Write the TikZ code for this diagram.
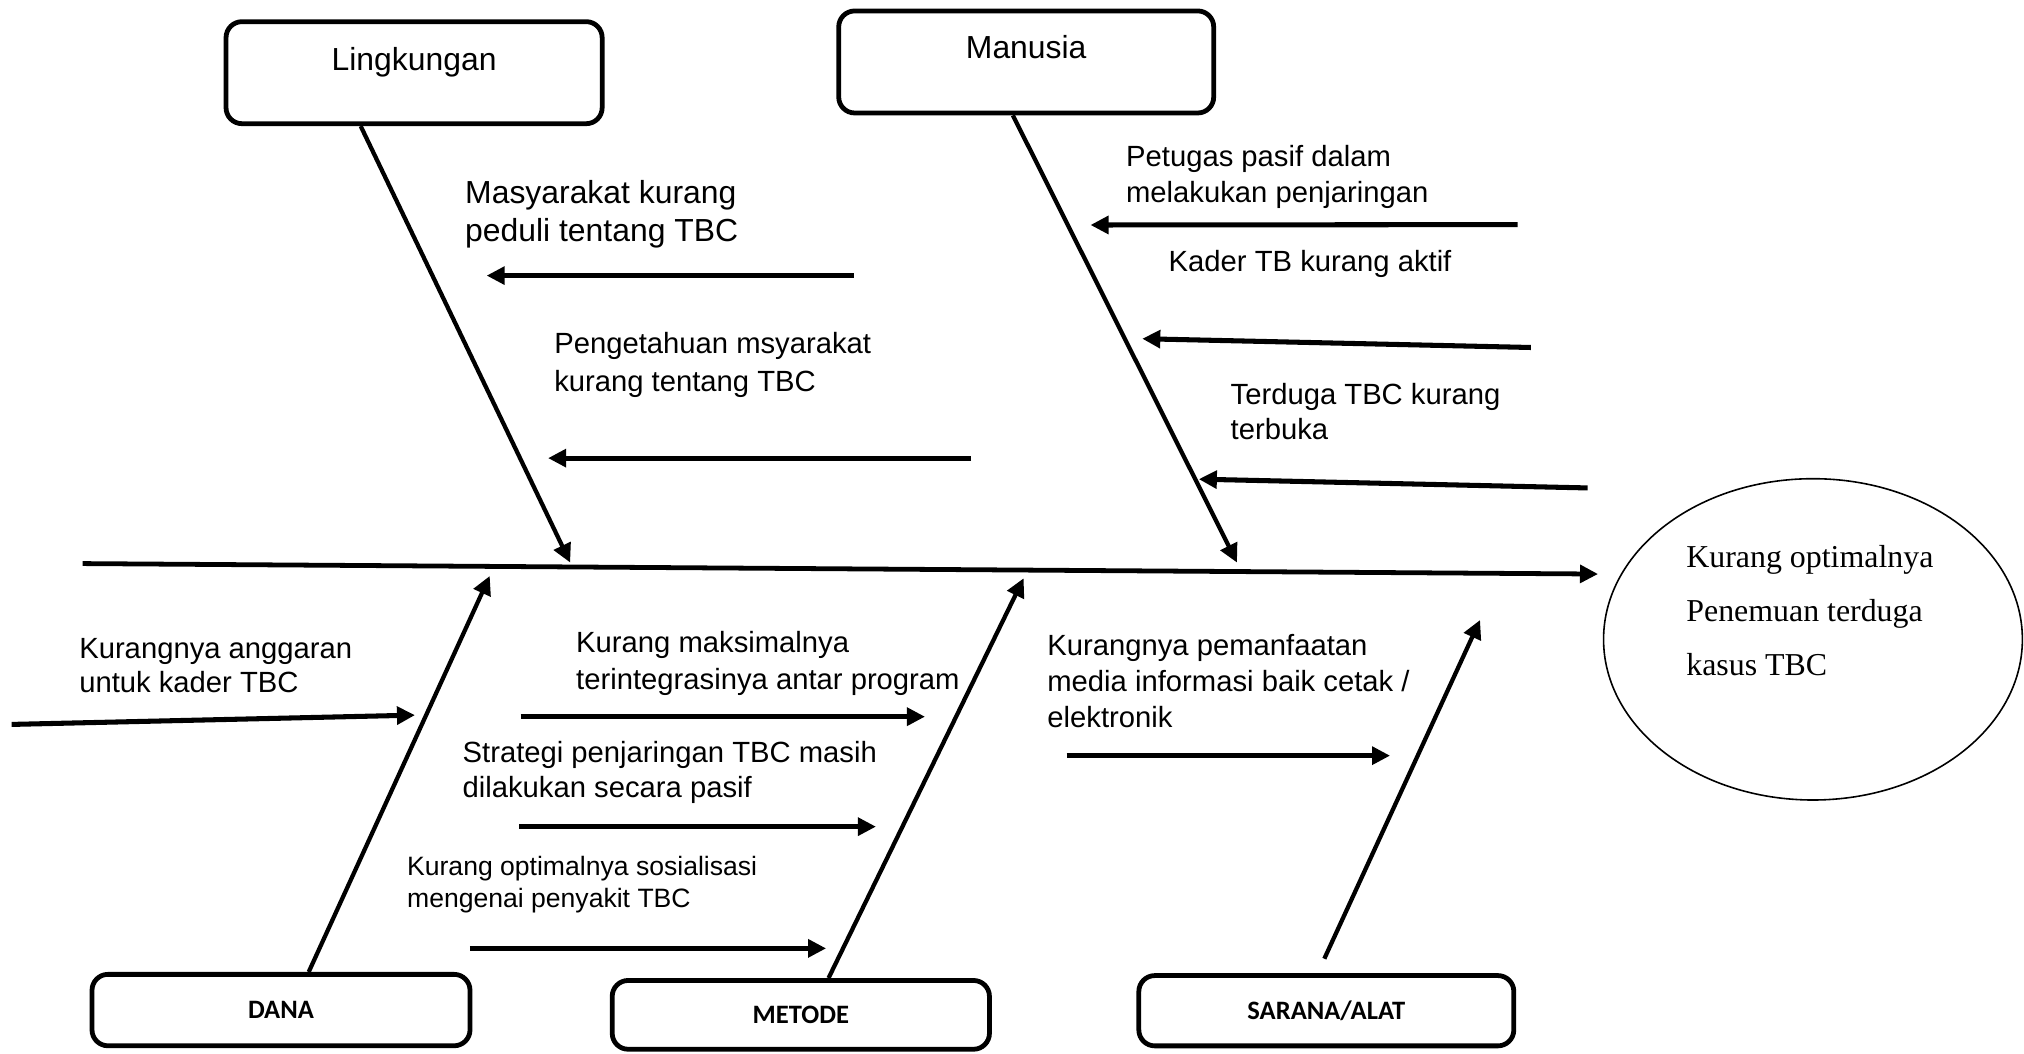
\documentclass[tikz,border=0pt]{standalone}
\usepackage{fontspec}
\setmainfont{Liberation Sans}
\newfontfamily\hurufserif{Liberation Serif}
\newfontfamily\hurufkotak{Carlito}
\usepackage{tikz}
\usetikzlibrary{arrows.meta, shapes.geometric}

\begin{document}
\begin{tikzpicture}[x=0.01708cm, y=-0.01708cm,
  kotak/.style={draw, line width=1.8pt, rounded corners=6pt, inner sep=0pt},
  kotakatas/.style={kotak, font=\fontsize{12}{14}\selectfont},
  kotakbawah/.style={kotak, font=\hurufkotak\bfseries\fontsize{10}{12}\selectfont},
  tulang/.style={line width=1.6pt, -{Triangle[length=7pt,width=6.8pt]}},
  panah/.style={line width=1.9pt, -{Triangle[length=6.8pt,width=6.6pt]}},
  sebab/.style={anchor=west, align=left, inner sep=0pt}]

\useasboundingbox (0,0) rectangle (1568,816);

% Kotak kategori atas
\node[kotakatas, minimum width=4.975cm, text height=18.4pt, text depth=20pt] (lingk) at (320.8,56.3) {Lingkungan};
\node[kotakatas, minimum width=4.96cm, text height=17.9pt, text depth=20.5pt] (manusia) at (795,48) {Manusia};

% Kotak kategori bawah
\node[kotakbawah, minimum width=5.0cm, minimum height=0.945cm] (dana) at (217.7,782.5) {DANA};
\node[kotakbawah, minimum width=4.99cm, minimum height=0.91cm] (metode) at (620.4,786.2) {METODE};
\node[kotakbawah, minimum width=4.96cm, minimum height=0.93cm] (sarana) at (1027.5,783) {SARANA/ALAT};

% Kepala ikan (masalah)
\node[ellipse, draw, line width=0.6pt, minimum width=5.54cm, minimum height=4.25cm, inner sep=0pt] (hasil) at (1404.5,495.3) {};
\node[anchor=west, align=left, inner sep=0pt, font=\hurufserif\fontsize{12}{20.4}\selectfont] (hasilteks) at (1306,473) {Kurang optimalnya\\Penemuan terduga\\kasus TBC};

% Tulang utama
\coordinate (ekor) at (64,436.6);
\coordinate (kepala) at (1238,444.7);
\draw[line width=1.8pt, -{Triangle[length=6.8pt,width=6.6pt]}] (ekor) -- (kepala);

% Tulang kategori
\coordinate (ujungL) at (441.7,435.8);
\coordinate (ujungM) at (958.3,435.8);
\coordinate (ujungD) at (379.4,446.2);
\coordinate (ujungMe) at (793,448);
\coordinate (ujungS) at (1146.6,480.3);
\draw[tulang] (lingk.225) -- (ujungL);
\draw[tulang] (manusia.256) -- (ujungM);
\draw[tulang] (dana.54) -- (ujungD);
\draw[tulang] (metode.53) -- (ujungMe);
\draw[tulang, shorten <=6pt] (sarana.103) -- (ujungS);

% Sebab - Lingkungan
\node[sebab, font=\fontsize{12}{14.4}\selectfont] (masy) at (360,166) {Masyarakat kurang\\peduli tentang TBC};
\node[sebab, font=\fontsize{11}{14.4}\selectfont] (penget) at (429,283) {Pengetahuan msyarakat\\kurang tentang TBC};
\coordinate (a1) at (661.4,213.5);
\coordinate (a1u) at (377,213.5);
\coordinate (a2) at (752.3,354.9);
\coordinate (a2u) at (424.6,354.9);
\draw[panah] (a1) -- (a1u);
\draw[panah] (a2) -- (a2u);

% Sebab - Manusia
\node[sebab, font=\fontsize{11}{13.7}\selectfont] (petugas) at (872,137) {Petugas pasif dalam\\melakukan penjaringan};
\node[sebab, font=\fontsize{11}{13}\selectfont] (kader) at (905,204.5) {Kader TB kurang aktif};
\node[sebab, font=\fontsize{11}{13}\selectfont] (terduga) at (953,318.7) {Terduga TBC kurang\\terbuka};
\coordinate (a3) at (1175.6,174);
\coordinate (a3u) at (844.8,174.3);
\coordinate (a4) at (1186,269.2);
\coordinate (a4u) at (884.9,262.4);
\coordinate (a5) at (1229.9,378);
\coordinate (a5u) at (928.7,371.2);
\draw[panah] (a3) -- (a3u);
\draw[panah] (a4) -- (a4u);
\draw[panah] (a5) -- (a5u);

% Sebab - Dana
\node[sebab, font=\fontsize{11}{12.8}\selectfont] (anggaran) at (61,516) {Kurangnya anggaran\\untuk kader TBC};
\coordinate (b1) at (9,561.2);
\coordinate (b1u) at (321.5,554);
\draw[panah] (b1) -- (b1u);

% Sebab - Metode
\node[sebab, font=\fontsize{11}{13.8}\selectfont] (integrasi) at (446,514) {Kurang maksimalnya\\terintegrasinya antar program};
\node[sebab, font=\fontsize{11}{13.1}\selectfont] (strategi) at (358,598.5) {Strategi penjaringan TBC masih\\dilakukan secara pasif};
\node[sebab, font=\fontsize{10}{12}\selectfont] (sosialisasi) at (315,685) {Kurang optimalnya sosialisasi\\mengenai penyakit TBC};
\coordinate (b2) at (403.4,555.2);
\coordinate (b2u) at (716.6,555.2);
\coordinate (b3) at (402.3,640.4);
\coordinate (b3u) at (678.6,640.4);
\coordinate (b4) at (364.1,734.7);
\coordinate (b4u) at (640,734.7);
\draw[panah] (b2) -- (b2u);
\draw[panah] (b3) -- (b3u);
\draw[panah] (b4) -- (b4u);

% Sebab - Sarana/Alat
\node[sebab, font=\fontsize{11}{13.5}\selectfont] (media) at (811,527.4) {Kurangnya pemanfaatan\\media informasi baik cetak /\\elektronik};
\coordinate (b5) at (826.4,585.4);
\coordinate (b5u) at (1076.9,585.4);
\draw[panah] (b5) -- (b5u);

\end{tikzpicture}
\end{document}
